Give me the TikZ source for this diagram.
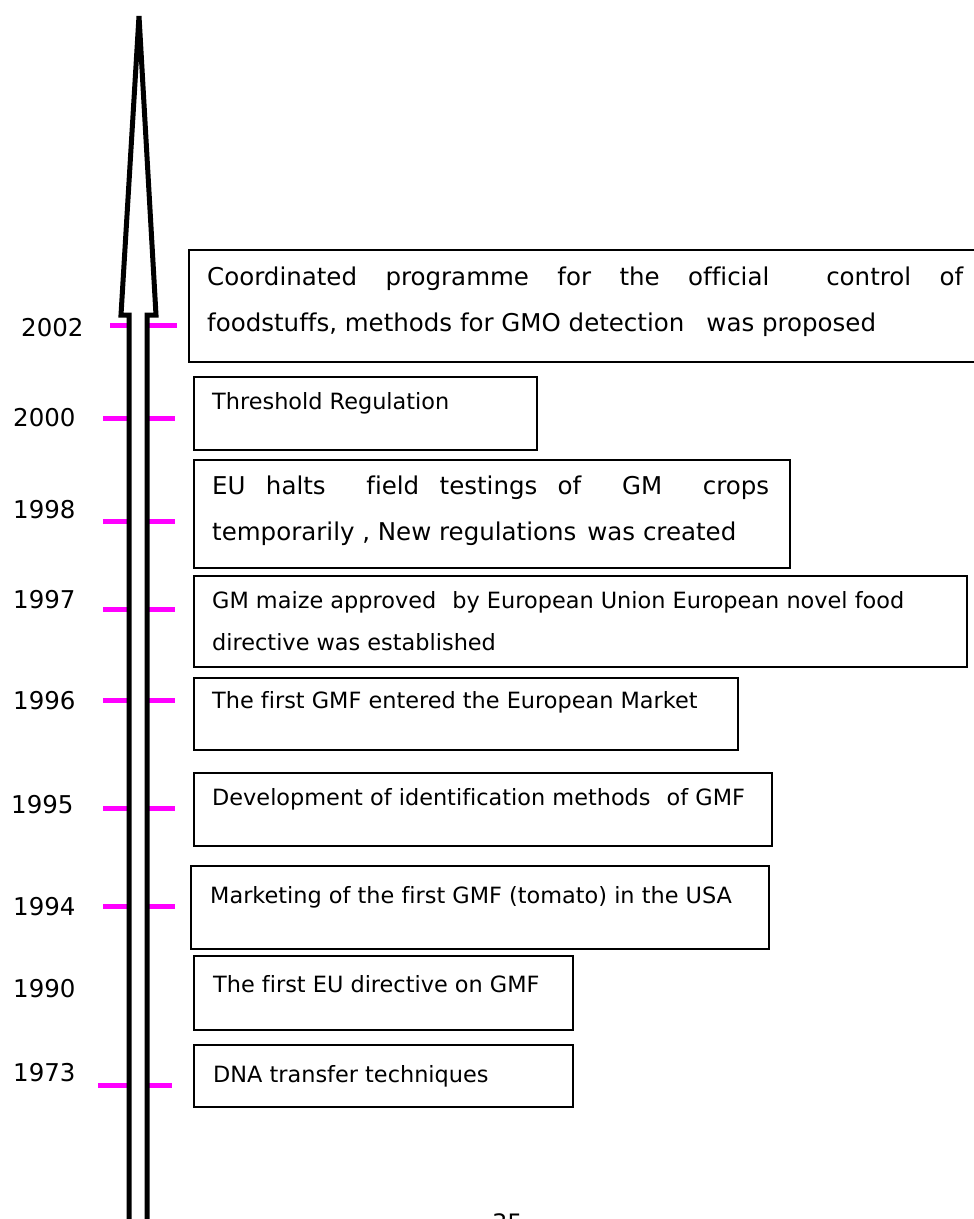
\documentclass[tikz,border=0pt]{standalone}
\usepackage{fontspec}
\setmainfont{DejaVu Sans}[Ligatures=NoCommon]
\definecolor{tickmag}{RGB}{255,0,255}
\begin{document}
\begin{tikzpicture}[x=1pt,y=-1pt,
  box/.style={draw=black,line width=2pt,anchor=north west,inner sep=0pt},
  tick/.style={draw=tickmag,line width=5pt},
  big/.style={font=\fontsize{24.5}{29}\selectfont,inner sep=0pt,anchor=base west},
  small/.style={font=\fontsize{22.4}{27}\selectfont,inner sep=0pt,anchor=base west},
  year/.style={font=\fontsize{24.5}{29}\selectfont,inner sep=0pt,anchor=base west}]
\useasboundingbox (0,0) rectangle (974,1219);
% ticks
\coordinate (t02a) at (110,325); \coordinate (t02b) at (177,325);
\coordinate (t00a) at (103,418); \coordinate (t00b) at (175,418);
\coordinate (t98a) at (103,521); \coordinate (t98b) at (175,521);
\coordinate (t97a) at (103,609); \coordinate (t97b) at (175,609);
\coordinate (t96a) at (103,700); \coordinate (t96b) at (175,700);
\coordinate (t95a) at (103,808); \coordinate (t95b) at (175,808);
\coordinate (t94a) at (103,906); \coordinate (t94b) at (175,906);
\coordinate (t73a) at (98,1085); \coordinate (t73b) at (172,1085);
\foreach \t in {02,00,98,97,96,95,94,73} {\draw[tick] (t\t a) -- (t\t b);}
% arrow
\coordinate (sl) at (129,1230); \coordinate (sr) at (147,1230);
\coordinate (tip) at (139,16);
\filldraw[fill=white,draw=black,line width=5pt,line join=miter]
  (sl) -- (129,315) -- (121,315) -- (tip) -- (156,315) -- (147,315) -- (sr);
% years
\node[year] (y02) at (21,336) {2002};
\node[year] (y00) at (13,426) {2000};
\node[year] (y98) at (13,518) {1998};
\node[year] (y97) at (13,608) {1997};
\node[year] (y96) at (13,709) {1996};
\node[year] (y95) at (11,813) {1995};
\node[year] (y94) at (13,915) {1994};
\node[year] (y90) at (13,997) {1990};
\node[year] (y73) at (13,1081) {1973};
% boxes
\node[box,minimum width=800pt,minimum height=112pt] (b02) at (188,249) {};
\node[box,minimum width=343pt,minimum height=73pt] (b00) at (193,376) {};
\node[box,minimum width=596pt,minimum height=108pt] (b98) at (193,459) {};
\node[box,minimum width=773pt,minimum height=91pt] (b97) at (193,575) {};
\node[box,minimum width=544pt,minimum height=72pt] (b96) at (193,677) {};
\node[box,minimum width=578pt,minimum height=73pt] (b95) at (193,772) {};
\node[box,minimum width=578pt,minimum height=83pt] (b94) at (190,865) {};
\node[box,minimum width=379pt,minimum height=74pt] (b90) at (193,955) {};
\node[box,minimum width=379pt,minimum height=62pt] (b73) at (193,1044) {};
% texts
\node[big] (x02a) at (207,285) {\hbox to 756pt{Coordinated\hfill programme\hfill for\hfill the\hfill official\hfill\hfill control\hfill of}};
\node[big] (x02b) at (207,331) {foodstuffs, methods for GMO detection\hspace{0.9em}was proposed};
\node[small] (x00) at (212,409) {Threshold Regulation};
\node[big] (x98a) at (212,494) {\hbox to 557pt{EU\hfill halts\hfill\hfill field\hfill testings\hfill of\hfill\hfill GM\hfill\hfill crops}};
\node[big] (x98b) at (212,540) {temporarily , New regulations\hspace{0.45em}was created};
\node[small] (x97a) at (212,608) {GM maize approved\hspace{0.4em} by European Union European novel food};
\node[small] (x97b) at (212,650) {directive was established};
\node[small] (x96) at (212,708) {The first GMF entered the European Market};
\node[small] (x95) at (212,805) {Development of identification methods\hspace{0.4em} of GMF};
\node[small] (x94) at (210,903) {Marketing of the first GMF (tomato) in the USA};
\node[small] (x90) at (213,992) {The first EU directive on GMF};
\node[small] (x73) at (213,1082) {DNA transfer techniques};
\node[font=\fontsize{24}{28}\selectfont,inner sep=0pt,anchor=north west] (pg) at (492,1213) {35};
\end{tikzpicture}
\end{document}
